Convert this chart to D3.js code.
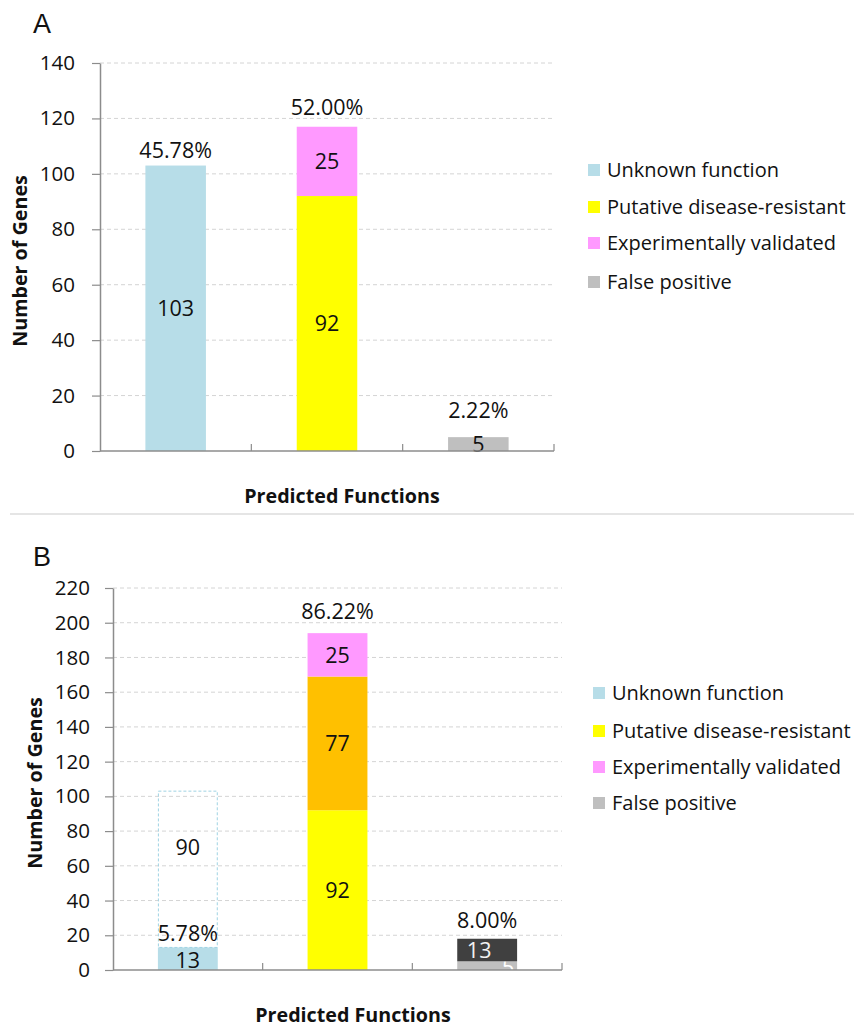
<!DOCTYPE html>
<html>
<head>
<meta charset="utf-8">
<script src="https://cdn.jsdelivr.net/npm/d3@7"></script>
<style>
  html, body { margin: 0; padding: 0; background: #fff; }
  svg { display: block; font-family: "Open Sans", sans-serif; }
</style>
</head>
<body>
<svg id="chart" width="854" height="1028"></svg>
<script>
// Categories along the x axis (no labels are printed under the bars)
const categories = ["Unknown", "Putative", "FalsePositive"];

// Legend entries
const legendLabels = ["Unknown function", "Putative disease-resistant", "Experimentally validated", "False positive"];

// Panel A: gene counts per stacked segment
const aUnknown   = [103, 0, 0];
const aPutative  = [0, 92, 0];
const aValidated = [0, 25, 0];
const aFalse     = [0, 0, 5];
const aPercent   = ["45.78%", "52.00%", "2.22%"];
const aTicks     = [0, 20, 40, 60, 80, 100, 120, 140];

// Panel B: gene counts after reclassification
const bUnknown      = [13, 0, 0];
const bReassigned   = [90, 0, 0];   // drawn as a dashed outline above the unknown bar
const bPutative     = [0, 92, 0];
const bPutativeNew  = [0, 77, 0];
const bValidated    = [0, 25, 0];
const bFalse        = [0, 0, 5];
const bFalseNew     = [0, 0, 13];
const bPercent      = ["5.78%", "86.22%", "8.00%"];
const bTicks        = [0, 20, 40, 60, 80, 100, 120, 140, 160, 180, 200, 220];

const colors = {
  unknown: "#B7DDE8",
  putative: "#FFFF00",
  putativeNew: "#FFC000",
  validated: "#FF99FF",
  falsePos: "#BFBFBF",
  falseNew: "#404040"
};
const legendColors = [colors.unknown, colors.putative, colors.validated, colors.falsePos];

const svg = d3.select("#chart");
const axisColor = "#8c8c8c";
const gridColor = "#d4d4d4";
const textColor = "#111";
const labelSize = 21.5;

function drawPanel(cfg) {
  const g = svg.append("g");
  const x = d3.scaleBand().domain(categories)
    .range([cfg.left, cfg.right]).paddingInner(0.6).paddingOuter(0.3);
  const y = d3.scaleLinear().domain([0, cfg.max]).range([cfg.bottom, cfg.top]);

  // dashed horizontal gridlines
  g.append("g").selectAll("line").data(cfg.ticks.filter(t => t > 0)).join("line")
    .attr("x1", cfg.left).attr("x2", cfg.right)
    .attr("y1", d => y(d)).attr("y2", d => y(d))
    .attr("stroke", gridColor).attr("stroke-width", 1).attr("stroke-dasharray", "4,3");

  // stacked bars
  const rows = categories.map((c, i) => {
    const r = { cat: c };
    cfg.series.forEach(s => { r[s.key] = s.values[i]; });
    return r;
  });
  const stack = d3.stack().keys(cfg.series.map(s => s.key))(rows);
  stack.forEach((layer, li) => {
    const s = cfg.series[li];
    g.append("g").selectAll("rect").data(layer.filter(d => d[1] - d[0] > 0)).join("rect")
      .attr("x", d => x(d.data.cat) + (s.outline ? 0.5 : 0))
      .attr("width", x.bandwidth() - (s.outline ? 1 : 0))
      .attr("y", d => y(d[1]))
      .attr("height", d => y(d[0]) - y(d[1]))
      .attr("fill", s.outline ? "none" : s.color)
      .attr("stroke", s.outline ? s.color : "none")
      .attr("stroke-width", s.outline ? 1 : 0)
      .attr("stroke-dasharray", s.outline ? "3,2" : null);
    // value labels inside segments
    g.append("g").selectAll("text").data(layer.filter(d => d[1] - d[0] > 0)).join("text")
      .attr("x", d => x(d.data.cat) + x.bandwidth() / 2 + (s.dx || 0))
      .attr("y", d => y(s.labelAt ? d[0] + (d[1] - d[0]) * s.labelAt : (d[0] + d[1]) / 2) + (s.dy || 0))
      .attr("dy", "0.36em")
      .attr("text-anchor", "middle")
      .attr("font-size", labelSize)
      .attr("fill", s.textColor || textColor)
      .text(d => d[1] - d[0]);
  });

  // percentage labels above each bar
  const totals = categories.map((c, i) => d3.sum(cfg.series.filter(s => !s.skipTotal), s => s.values[i]));
  g.append("g").selectAll("text").data(cfg.percent).join("text")
    .attr("x", (d, i) => x(categories[i]) + x.bandwidth() / 2)
    .attr("y", (d, i) => y(totals[i]) - cfg.pctOffset[i])
    .attr("text-anchor", "middle")
    .attr("font-size", labelSize)
    .attr("fill", textColor)
    .text(d => d);

  // y axis
  const yAxis = g.append("g").attr("transform", `translate(${cfg.left},0)`)
    .call(d3.axisLeft(y).tickValues(cfg.ticks).tickSize(8).tickPadding(cfg.tickPad).tickSizeOuter(0));
  yAxis.select(".domain").attr("stroke", axisColor).attr("stroke-width", 1.5);
  yAxis.selectAll(".tick line").attr("stroke", axisColor).attr("stroke-width", 1.2);
  yAxis.selectAll(".tick text").attr("font-size", 20.5).attr("fill", textColor)
    .attr("font-family", "'Open Sans', sans-serif");

  // x axis line with inward ticks on category boundaries
  g.append("line").attr("x1", cfg.left).attr("x2", cfg.right)
    .attr("y1", cfg.bottom).attr("y2", cfg.bottom)
    .attr("stroke", axisColor).attr("stroke-width", 1.5);
  const step = x.step();
  g.append("g").selectAll("line").data(d3.range(1, categories.length + 1)).join("line")
    .attr("x1", d => cfg.left + d * step).attr("x2", d => cfg.left + d * step)
    .attr("y1", cfg.bottom).attr("y2", cfg.bottom - 7)
    .attr("stroke", axisColor).attr("stroke-width", 1.2);

  // axis titles
  g.append("text").attr("x", cfg.xTitleX).attr("y", cfg.xTitleY)
    .attr("text-anchor", "middle").attr("font-weight", "bold").attr("font-size", 19.7)
    .attr("fill", textColor).text("Predicted Functions");
  g.append("text")
    .attr("transform", `translate(${cfg.yTitleX},${(cfg.top + cfg.bottom) / 2 + 4}) rotate(-90)`)
    .attr("text-anchor", "middle").attr("font-weight", "bold").attr("font-size", 19.7)
    .attr("fill", textColor).text("Number of Genes");

  // panel letter
  g.append("text").attr("x", 33).attr("y", cfg.letterY)
    .attr("font-family", "'Liberation Sans', Arial, sans-serif").attr("font-size", 27)
    .attr("fill", textColor).text(cfg.letter);

  // legend
  const lg = g.append("g").selectAll("g").data(legendLabels).join("g")
    .attr("transform", (d, i) => `translate(${cfg.legendX},${cfg.legendY[i]})`);
  lg.append("rect").attr("x", 0).attr("y", -6).attr("width", 12).attr("height", 12)
    .attr("fill", (d, i) => legendColors[i]);
  lg.append("text").attr("x", 19).attr("y", 0).attr("dy", "0.36em")
    .attr("font-size", 20).attr("fill", textColor).text(d => d);
}

drawPanel({
  letter: "A", letterY: 33,
  left: 100, right: 554, top: 63, bottom: 451, max: 140,
  ticks: aTicks, tickPad: 17,
  series: [
    { key: "unknown", values: aUnknown, color: colors.unknown },
    { key: "putative", values: aPutative, color: colors.putative },
    { key: "validated", values: aValidated, color: colors.validated },
    { key: "falsePos", values: aFalse, color: colors.falsePos }
  ],
  percent: aPercent, pctOffset: [8, 12, 19],
  xTitleX: 342, xTitleY: 503, yTitleX: 27,
  legendX: 588, legendY: [170, 207, 243, 282]
});

drawPanel({
  letter: "B", letterY: 566,
  left: 113, right: 562, top: 588, bottom: 970, max: 220,
  ticks: bTicks, tickPad: 15,
  series: [
    { key: "unknown", values: bUnknown, color: colors.unknown, dy: 2 },
    { key: "reassigned", values: bReassigned, color: "#9fd3e3", outline: true, skipTotal: true, labelAt: 0.64 },
    { key: "putative", values: bPutative, color: colors.putative },
    { key: "putativeNew", values: bPutativeNew, color: colors.putativeNew },
    { key: "validated", values: bValidated, color: colors.validated },
    { key: "falsePos", values: bFalse, color: colors.falsePos, textColor: "#fff", dx: 21, dy: 2 },
    { key: "falseNew", values: bFalseNew, color: colors.falseNew, textColor: "#f2f2f2", dx: -8 }
  ],
  percent: bPercent, pctOffset: [6, 14, 11],
  xTitleX: 353, xTitleY: 1022, yTitleX: 42,
  legendX: 593, legendY: [693, 731, 767, 803]
});

// thin divider between the two panels
svg.append("line").attr("x1", 10).attr("x2", 854).attr("y1", 514).attr("y2", 514)
  .attr("stroke", "#dcdcdc").attr("stroke-width", 1.5);
</script>
</body>
</html>
